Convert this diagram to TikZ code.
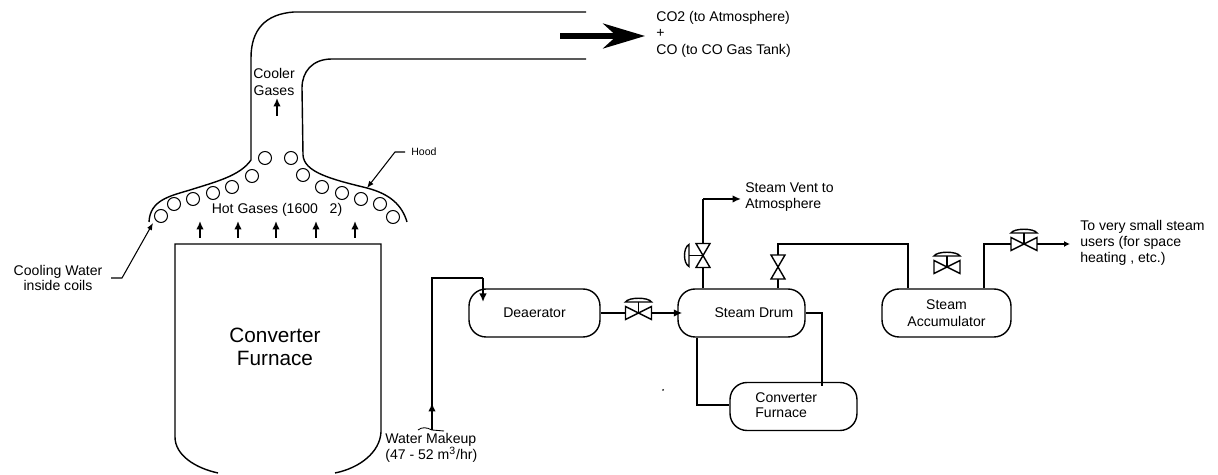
\documentclass[tikz,border=0pt]{standalone}
\usepackage{fontspec}
\setmainfont{Liberation Sans}
\usetikzlibrary{arrows.meta,positioning}
\tikzset{
  valveh/.pic={
    \draw[fill=white, line width=0.8pt] (-13,-6.5) -- (13,6.5) -- (13,-6.5) -- (-13,6.5) -- cycle;
    \draw[line width=0.8pt] (0,0) -- (0,-11);
    \draw[fill=white, line width=0.8pt] (-13,-11) .. controls (-10,-16) and (10,-16) .. (13,-11) -- cycle;
    \coordinate (-w) at (-13,0);
    \coordinate (-e) at (13,0);
  },
  valvev/.pic={
    \draw[fill=white, line width=0.8pt] (-7,-12) -- (7,12) -- (-7,12) -- (7,-12) -- cycle;
    \coordinate (-n) at (0,-12);
    \coordinate (-s) at (0,12);
  },
  valvea/.pic={
    \draw[fill=white, line width=0.8pt] (-7,-12) -- (7,12) -- (-7,12) -- (7,-12) -- cycle;
    \draw[line width=0.8pt] (0,0) -- (-14,0);
    \draw[line width=0.8pt] (-14,-11) .. controls (-20,-8) and (-20,8) .. (-14,11) -- cycle;
    \coordinate (-n) at (0,-12);
    \coordinate (-s) at (0,12);
  }
}
\begin{document}
\begin{tikzpicture}[
    x=0.02cm, y=-0.02cm,
    vessel/.style={draw, line width=0.8pt, rounded corners=0.34cm, align=center, minimum height=0.96cm, inner sep=0pt, font=\fontsize{8}{8.8}\selectfont},
    txt/.style={align=center, inner sep=0pt, font=\fontsize{8}{8.8}\selectfont},
    ltxt/.style={align=left, inner sep=0pt, font=\fontsize{8}{8.8}\selectfont},
    coil/.style={circle, draw, line width=0.6pt, minimum size=0.26cm, inner sep=0pt},
    wall/.style={line width=0.8pt},
    pipe/.style={line width=0.9pt},
    arrow/.style={-{Latex[length=1.7mm,width=1.5mm]}, line width=0.9pt},
    leader/.style={-{Latex[length=1.4mm,width=1.1mm]}, line width=0.6pt}
  ]
    \useasboundingbox (0,0) rectangle (1218,475);

    \draw[wall] (586,12) -- (294,12) .. controls (265,14) and (251,30) .. (251,58) -- (251,160) .. controls (240,176) and (215,182) .. (190,190) .. controls (170,196) and (150,200) .. (149,222);
    \draw[wall] (586,59) -- (332,59) .. controls (312,59) and (302,72) .. (302,88) -- (303,155) .. controls (304,172) and (330,179) .. (367,188) .. controls (390,194) and (402,205) .. (407,222);
    \draw[wall] (218,473) .. controls (195,468) and (175,455) .. (175,437) -- (175,244) -- (381,244) -- (381,432) .. controls (380,452) and (360,468) .. (335,473);

    \node[coil] (coila) at (265,158) {};
    \node[coil] (coilb) at (291,158) {};
    \node[coil] (coilc) at (252,176) {};
    \node[coil] (coild) at (303,175) {};
    \node[coil] (coile) at (232,187) {};
    \node[coil] (coilf) at (322,187) {};
    \node[coil] (coilg) at (213,193) {};
    \node[coil] (coilh) at (342,193) {};
    \node[coil] (coili) at (193,199) {};
    \node[coil] (coilj) at (361,199) {};
    \node[coil] (coilk) at (174,204) {};
    \node[coil] (coill) at (380,204) {};
    \node[coil] (coilm) at (161,216) {};
    \node[coil] (coiln) at (393,217) {};

    \node[txt] (cooler) at (274,82) {Cooler\\[1pt]Gases};
    \node[txt] (hot) at (277,210) {Hot Gases (1600\ \ \ 2)};
    \node[font=\fontsize{11.8}{13}\selectfont, align=center, inner sep=0pt] (furnace) at (275,347) {Converter\\Furnace};
    \node[txt] (cooling) at (58,278) {Cooling Water\\inside coils};
    \node[ltxt, anchor=west, font=\fontsize{6}{7}\selectfont] (hood) at (411,152) {Hood};
    \node[ltxt, anchor=west] (gases) at (656,34) {CO2 (to Atmosphere)\\[0.6pt]+\\[0.6pt]CO (to CO Gas Tank)};

    \coordinate (gasa) at (200,238);
    \coordinate (gasb) at (238,238);
    \coordinate (gasc) at (276,238);
    \coordinate (gasd) at (316,238);
    \coordinate (gase) at (355,238);
    \draw[arrow] (gasa) -- ++(0,-17);
    \draw[arrow] (gasb) -- ++(0,-17);
    \draw[arrow] (gasc) -- ++(0,-17);
    \draw[arrow] (gasd) -- ++(0,-17);
    \draw[arrow] (gase) -- ++(0,-17);
    \coordinate (coolb) at (277,116);
    \draw[arrow] (coolb) -- ++(0,-18);

    \coordinate (stack) at (560,36);
    \draw[-{Stealth[length=0.84cm,width=0.5cm]}, line width=2.9pt] (stack) -- (645,36);

    \coordinate (coolend) at (111,278);
    \draw[leader] (coolend) -- (122,278) -- (153,223);
    \coordinate (hoodend) at (405,152);
    \draw[leader] (hoodend) -- (395,152) -- (367,188);

    \node[vessel, minimum width=2.62cm] (dea) at (534.5,313) {Deaerator};
    \node[vessel, minimum width=2.54cm] (drum) at (741.5,313) {};
    \node[txt] (drumtxt) at (754,313) {Steam Drum};
    \node[vessel, minimum width=2.58cm] (acc) at (946.5,313) {Steam\\[0.6pt]Accumulator};
    \node[vessel, minimum width=2.54cm] (small) at (793.5,406.5) {};
    \node[ltxt, anchor=west] (smalltxt) at (755,405) {Converter\\Furnace};

    \coordinate (wbase) at (432,430);
    \coordinate (wtop) at (483,278);
    \coordinate (wend) at (483,302);
    \coordinate (wmid) at (432,403);
    \draw[pipe] (wbase) -- (wmid) |- (wtop);
    \draw[arrow] (wtop) -- (wend);
    \draw[arrow] (wbase) -- (wmid);
    \draw[line width=0.5pt] (418,430) .. controls (422,427) and (426,427) .. (432,430) -- (444,431);
    \node[ltxt, anchor=west] (water) at (385,448) {Water Makeup\\[0.5pt](47 - 52 m\textsuperscript{3}/hr)};

    \pic (vdea) at (638.5,313) {valveh};
    \draw[pipe] (dea.east) -- (vdea-w);
    \draw[arrow] (vdea-e) -- ([xshift=0.1cm]drum.west);

    \pic (vvent) at (703,255.5) {valvea};
    \coordinate (ventc) at (703,199);
    \coordinate (vente) at (741,199);
    \draw[pipe] (drum.north -| vvent-s) -- (vvent-s);
    \draw[pipe] (vvent-n) -- (ventc);
    \draw[arrow] (ventc) -- (vente);
    \node[ltxt, anchor=west] (vent) at (745,197) {Steam Vent to\\[0.5pt]Atmosphere};

    \pic (vacc) at (778,267) {valvev};
    \coordinate (lineb) at (778,244);
    \coordinate (linec) at (908,244);
    \draw[pipe] (drum.north -| vacc-s) -- (vacc-s);
    \draw[pipe] (vacc-n) -- (lineb) -- (linec) -- (linec |- acc.north);

    \pic (vfloat) at (947,267) {valveh};

    \pic (vout) at (1024,244) {valveh};
    \coordinate (outc) at (984,244);
    \coordinate (oute) at (1070,244);
    \draw[pipe] (acc.north -| outc) -- (outc) -- (vout-w);
    \draw[-{Latex[length=1.2mm,width=1.2mm]}, line width=0.9pt] (vout-e) -- (oute);
    \node[ltxt, anchor=west] (users) at (1080,243) {To very small steam\\[0.5pt]users (for space\\[0.5pt]heating , etc.)};

    \coordinate (sidea) at (822,313);
    \draw[pipe] (drum.east) -- (sidea) -- ([yshift=-0.08cm]sidea |- small.north);
    \coordinate (sideb) at (697,405);
    \draw[pipe] (drum.south -| sideb) -- (sideb) -- (sideb -| small.west);

    \node[fill, circle, inner sep=0pt, minimum size=0.04cm] (speck) at (663,390) {};
  \end{tikzpicture}
\end{document}
